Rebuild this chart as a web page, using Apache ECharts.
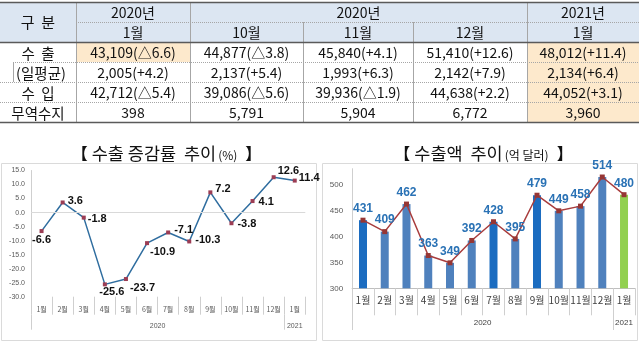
<!DOCTYPE html>
<html><head><meta charset="utf-8">
<script src="https://cdn.jsdelivr.net/npm/echarts@6.0.0/dist/echarts.min.js"></script>
<style>html,body{margin:0;padding:0;background:#fff}#c{width:639px;height:341px}</style>
</head><body><div id="c"></div>
<script>
// ---- table data ----
const tableYears = ['2020년', '2020년', '2021년'];
const tableMonths = ['1월', '10월', '11월', '12월', '1월'];
const tableCorner = '구  분';
const rowLabels = ['수  출', '(일평균)', '수  입', '무역수지'];
const exportsRow = ['43,109(△6.6)', '44,877(△3.8)', '45,840(+4.1)', '51,410(+12.6)', '48,012(+11.4)'];
const dailyAvgRow = ['2,005(+4.2)', '2,137(+5.4)', '1,993(+6.3)', '2,142(+7.9)', '2,134(+6.4)'];
const importsRow = ['42,712(△5.4)', '39,086(△5.6)', '39,936(△1.9)', '44,638(+2.2)', '44,052(+3.1)'];
const balanceRow = ['398', '5,791', '5,904', '6,772', '3,960'];

// ---- chart data ----
const months = ['1월','2월','3월','4월','5월','6월','7월','8월','9월','10월','11월','12월','1월'];
const yearGroups = ['2020', '2021'];
const growthRates = [-6.6, 3.6, -1.8, -25.6, -23.7, -10.9, -7.1, -10.3, 7.2, -3.8, 4.1, 12.6, 11.4];
const exportAmounts = [431, 409, 462, 363, 349, 392, 428, 395, 479, 449, 458, 514, 480];
const growthTitle = '수출 증감률  추이';
const growthUnit = '(%)';
const amountTitle = '수출액  추이';
const amountUnit = '(억 달러)';

// ---- styling (kept separate from data) ----
const KR = '"Noto Sans CJK KR", "Noto Sans", sans-serif';
const LAT = '"Liberation Sans", Arial, sans-serif';
const DARK_BAR = '#1b6cc0', MID_BAR = '#4f81bd', NEW_BAR = '#92d050';
const barColors = [DARK_BAR, MID_BAR, MID_BAR, MID_BAR, MID_BAR, MID_BAR, DARK_BAR, MID_BAR, DARK_BAR, MID_BAR, MID_BAR, MID_BAR, NEW_BAR];
const growthLabelPos = [
  {position:'bottom', distance:1, offset:[0,0]},
  {position:'right', distance:3, offset:[0,-2]},
  {position:'right', distance:2, offset:[0,1]},
  {position:'bottom', distance:0, offset:[7,0]},
  {position:'right', distance:2, offset:[0,9]},
  {position:'right', distance:1, offset:[0,9]},
  {position:'right', distance:4, offset:[0,-3]},
  {position:'right', distance:4, offset:[0,-1]},
  {position:'right', distance:3, offset:[0,-3]},
  {position:'right', distance:4, offset:[0,1]},
  {position:'right', distance:4, offset:[0,1]},
  {position:'right', distance:2, offset:[0,-6]},
  {position:'right', distance:2, offset:[0,-3]}
];

// ---- table drawn with graphic elements ----
const colX = [0, 76, 190, 303, 413, 527, 639];
const rowY = [2, 22, 42, 62, 82, 102, 122];
const els = [];
const HEAD_BG = '#dce6f2', HI_BG = '#fde9cc', GRID = '#a6a6a6', BORDER = '#5a5a5a';
function rect(x0, y0, x1, y1, fill) {
  els.push({type:'rect', silent:true, shape:{x:x0, y:y0, width:x1-x0, height:y1-y0}, style:{fill:fill}});
}
function line(x1, y1, x2, y2, color, w, dash) {
  els.push({type:'line', silent:true, shape:{x1:x1, y1:y1, x2:x2, y2:y2}, style:{stroke:color, lineWidth:w, lineDash:dash || null}});
}
function txt(cx, cy, s, size) {
  els.push({type:'text', silent:true, x:cx, y:cy, style:{text:s, fontSize:size || 14, fontFamily:KR, fill:'#111', align:'center', verticalAlign:'middle'}});
}
rect(0, rowY[0], 639, rowY[2], HEAD_BG);
rect(colX[1], rowY[2], colX[2], rowY[3], HI_BG);
rect(colX[5], rowY[2], colX[6], rowY[6], HI_BG);
// inner lines
line(colX[1], 22.5, 639, 22.5, GRID, 1, [1, 1]);
line(13, 62.5, 639, 62.5, GRID, 1, [1, 1]);
line(0, 82.5, 639, 82.5, GRID, 1, [1, 1]);
line(0, 102.5, 639, 102.5, GRID, 1, [1, 1]);
line(13.5, 62, 13.5, 82, GRID, 1);
[1, 2, 5].forEach(i => line(colX[i] + 0.5, rowY[0], colX[i] + 0.5, rowY[6], GRID, 1));
[3, 4].forEach(i => line(colX[i] + 0.5, rowY[1], colX[i] + 0.5, rowY[6], GRID, 1));
// borders
line(0, 2.5, 639, 2.5, BORDER, 1.3);
line(0, 42.5, 639, 42.5, BORDER, 1.3);
line(0, 122.5, 639, 122.5, BORDER, 1.3);
// texts
const cc = i => (colX[i] + colX[i + 1]) / 2;
const rc = r => (rowY[r] + rowY[r + 1]) / 2 + 1;
txt(38, 22, tableCorner, 15);
txt(cc(1), rc(0), tableYears[0]);
txt((colX[2] + colX[5]) / 2, rc(0), tableYears[1]);
txt(cc(5), rc(0), tableYears[2]);
tableMonths.forEach((m, i) => txt(cc(i + 1), rc(1), m));
const dataRows = [exportsRow, dailyAvgRow, importsRow, balanceRow];
rowLabels.forEach((l, r) => txt(r === 1 ? 41 : 38, rc(r + 2), l, 14.5));
dataRows.forEach((row, r) => row.forEach((v, i) => txt(cc(i + 1), rc(r + 2), v)));

// chart frames
els.push({type:'rect', silent:true, shape:{x:1.5, y:163.5, width:315, height:177}, style:{fill:null, stroke:'#dadada', lineWidth:1}});
els.push({type:'rect', silent:true, shape:{x:322.5, y:163.5, width:315, height:177}, style:{fill:null, stroke:'#dadada', lineWidth:1}});

// titles
function title(cx, main, unit) {
  els.push({type:'text', silent:true, x:cx, y:153, style:{
    text:'{bl|【}{t|' + main + '}{s|' + unit + '}{br|】}',
    align:'center', verticalAlign:'middle',
    rich:{
      bl:{fontSize:16, fontWeight:'bold', fontFamily:KR, fill:'#111', padding:[0,4,0,0]},
      br:{fontSize:16, fontWeight:'bold', fontFamily:KR, fill:'#111', padding:[0,0,0,8]},
      t:{fontSize:17.5, fontFamily:KR, fill:'#111'},
      s:{fontSize:12, fontFamily:KR, fill:'#111', padding:[4,0,0,2]}
    }}});
}
title(166.5, growthTitle, growthUnit);
title(483.5, amountTitle, amountUnit);

const tickColor = '#cfcfcf';
const option = {
  animation: false,
  graphic: {elements: els},
  grid: [
    {left: 31, top: 170.5, width: 274.3, height: 126.2},
    {left: 352.1, top: 168.7, width: 282.8, height: 119.6}
  ],
  xAxis: [
    {type:'category', gridIndex:0, data:months, position:'bottom',
     axisLine:{show:false, onZero:false},
     axisTick:{show:true, interval:0, length:18, lineStyle:{color:tickColor}},
     axisLabel:{interval:0, fontSize:7, color:'#595959', margin:9, fontFamily:KR}},
    {type:'value', gridIndex:0, min:0, max:13, position:'bottom', offset:18,
     axisLine:{show:false, onZero:false}, splitLine:{show:false},
     axisTick:{show:true, customValues:[0, 12], length:15, lineStyle:{color:tickColor}},
     axisLabel:{customValues:[6, 12.5], formatter: v => (v < 12 ? yearGroups[0] : yearGroups[1]), fontSize:7, color:'#595959', margin:8, fontFamily:LAT}},
    {type:'category', gridIndex:1, data:months, position:'bottom',
     axisLine:{show:true, onZero:false, lineStyle:{color:'#bfbfbf'}},
     axisTick:{show:true, interval:0, length:27, lineStyle:{color:tickColor}},
     axisLabel:{interval:0, fontSize:10, color:'#404040', margin:7, fontFamily:KR}},
    {type:'value', gridIndex:1, min:0, max:13, position:'bottom', offset:26.7,
     axisLine:{show:false, onZero:false}, splitLine:{show:false},
     axisTick:{show:true, customValues:[0, 12], length:15, lineStyle:{color:tickColor}},
     axisLabel:{customValues:[6, 12.5], formatter: v => (v < 12 ? yearGroups[0] : yearGroups[1]), fontSize:8, color:'#404040', margin:4, fontFamily:LAT}}
  ],
  yAxis: [
    {type:'value', gridIndex:0, min:-30, max:15, interval:5,
     axisLine:{show:true, lineStyle:{color:'#cfcfcf'}}, axisTick:{show:false}, splitLine:{show:false},
     axisLabel:{fontSize:7, color:'#595959', margin:6, fontFamily:LAT, formatter: v => v.toFixed(1)}},
    {type:'value', gridIndex:1, min:300, max:530, interval:50,
     axisLine:{show:true, lineStyle:{color:'#cfcfcf'}}, axisTick:{show:false}, splitLine:{show:false},
     axisLabel:{fontSize:8, color:'#595959', margin:9, fontFamily:LAT, showMaxLabel:false}}
  ],
  series: [
    {type:'line', xAxisIndex:0, yAxisIndex:0,
     data: growthRates.map((v, i) => ({value:v, label:growthLabelPos[i]})),
     symbol:'rect', symbolSize:4, itemStyle:{color:'#9c3d54'},
     lineStyle:{color:'#2f6d9f', width:1.5},
     label:{show:true, fontSize:11, fontWeight:'bold', color:'#111', fontFamily:LAT, formatter: p => Number(p.value).toFixed(1)},
     markLine:{silent:true, symbol:['none','none'], label:{show:false}, lineStyle:{color:'#d9d9d9', type:'solid', width:1}, data:[{yAxis:0}]},
     z:3},
    {type:'bar', xAxisIndex:2, yAxisIndex:1,
     data: exportAmounts.map((v, i) => ({value:v, itemStyle:{color:barColors[i]}})),
     barWidth:8},
    {type:'line', xAxisIndex:2, yAxisIndex:1, data: exportAmounts,
     symbol:'rect', symbolSize:5, itemStyle:{color:'#963634'},
     lineStyle:{color:'#a83c3c', width:1.5},
     label:{show:true, position:'top', distance:3, fontSize:12, fontWeight:'bold', color:'#2a72b5', fontFamily:LAT},
     z:3}
  ]
};
const chart = echarts.init(document.getElementById('c'), null, {renderer:'canvas'});
chart.setOption(option);
</script>
</body></html>
